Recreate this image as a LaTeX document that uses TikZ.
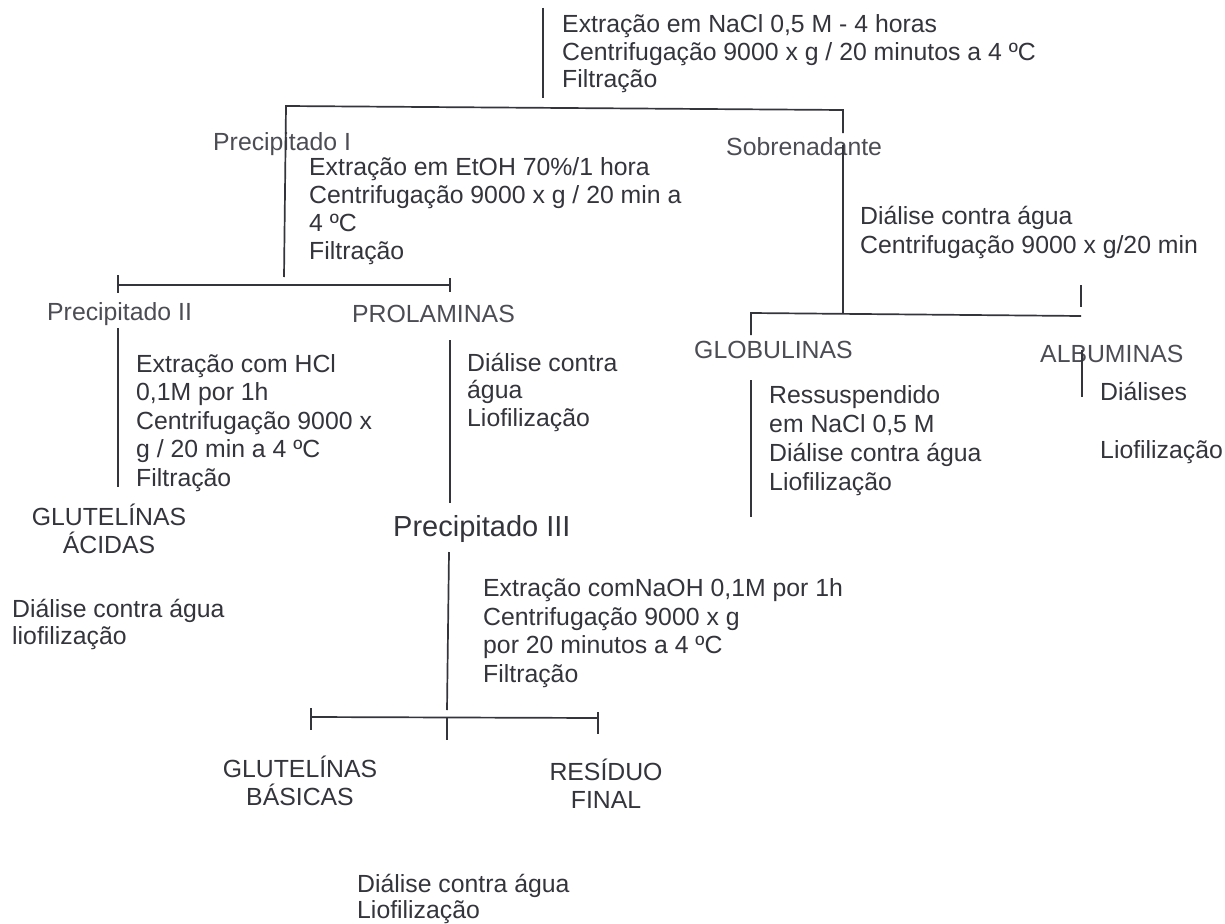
\documentclass[tikz,border=0pt]{standalone}
\usepackage{fontspec}
\setmainfont{Liberation Sans}
\definecolor{ink}{RGB}{52,52,60}
\definecolor{inklight}{RGB}{76,76,84}
\begin{document}
\begin{tikzpicture}[x=1pt,y=-1pt,
  % multi-line nodes: base anchor = baseline of the LAST line
  txt/.style={anchor=base west,inner sep=0pt,align=left,text=ink,
    font=\fontsize{24.8}{28.5}\selectfont},
  lbl/.style={anchor=base west,inner sep=0pt,text=inklight,
    font=\fontsize{24.8}{28.5}\selectfont},
  ctr/.style={anchor=base,inner sep=0pt,align=center,text=ink,
    font=\fontsize{24.8}{28}\selectfont},
  ln/.style={draw=ink,line width=1.7pt}]
\useasboundingbox[fill=white] (0,0) rectangle (1225,923);

% ---- text nodes ----
\node[txt,font=\fontsize{24.8}{27.5}\selectfont] (top) at (562,88) {Extração em NaCl 0,5 M - 4 horas\\Centrifugação 9000 x g / 20 minutos a 4 ºC\\Filtração};
\node[lbl] (p1) at (213,150) {Precipitado I};
\node[lbl] (sob) at (726,155) {Sobrenadante};
\node[txt,font=\fontsize{24.8}{28}\selectfont] (etoh) at (309,259) {Extração em EtOH 70\%/1 hora\\Centrifugação 9000 x g / 20 min a\\4 ºC\\Filtração};
\node[txt] (dial1) at (860,253) {Diálise contra água\\Centrifugação 9000 x g/20 min};
\node[lbl] (p2) at (47,320) {Precipitado II};
\node[lbl] (prol) at (352,322) {PROLAMINAS};
\node[txt] (hcl) at (136,486) {Extração com HCl\\0,1M por 1h\\Centrifugação 9000 x\\g / 20 min a 4 ºC\\Filtração};
\node[txt,font=\fontsize{24.8}{27.5}\selectfont] (dial2) at (467,426) {Diálise contra\\água\\Liofilização};
\node[ctr] (gacid) at (109,553) {GLUTELÍNAS\\ÁCIDAS};
\node[txt,font=\fontsize{29}{34}\selectfont] (p3) at (393,536) {Precipitado III};
\node[txt,font=\fontsize{24.8}{27}\selectfont] (dial3) at (12,644) {Diálise contra água\\liofilização};
\node[txt] (naoh) at (483,682) {Extração comNaOH 0,1M por 1h\\Centrifugação 9000 x g\\por 20 minutos a 4 ºC\\Filtração};
\node[ctr] (gbas) at (300,805) {GLUTELÍNAS\\BÁSICAS};
\node[ctr] (res) at (606,808) {RESÍDUO\\FINAL};
\node[txt,font=\fontsize{24.8}{26}\selectfont] (dial4) at (357,918) {Diálise contra água\\Liofilização};
\node[lbl] (glob) at (694,358) {GLOBULINAS};
\node[lbl] (alb) at (1040,362) {ALBUMINAS};
\node[txt] (dlses) at (1100,400) {Diálises};
\node[txt] (liof) at (1100,458) {Liofilização};
\node[txt,font=\fontsize{24.8}{29}\selectfont] (ress) at (769,490) {Ressuspendido\\em NaCl 0,5 M\\Diálise contra água\\Liofilização};

% ---- connector end points ----
\coordinate (a0) at (543,8);   \coordinate (a1) at (543,98);
\coordinate (h1l) at (286,106); \coordinate (h1r) at (843,110);
\coordinate (l1b) at (284,277);
\coordinate (r1a) at (843,133); \coordinate (r1b) at (843,145); \coordinate (r1c) at (843,313);
\coordinate (h2l) at (118,285); \coordinate (h2r) at (450,285);
\coordinate (t2la) at (118,275); \coordinate (t2lb) at (118,293);
\coordinate (t2ra) at (450,278); \coordinate (t2rb) at (450,292);
\coordinate (v2a) at (118,328); \coordinate (v2b) at (118,487);
\coordinate (v3a) at (450,340); \coordinate (v3b) at (450,503);
\coordinate (v4a) at (449,552); \coordinate (v4b) at (447,710);
\coordinate (h3l) at (311,717); \coordinate (h3m) at (447,717.5); \coordinate (h3r) at (598,718);
\coordinate (t3la) at (311,708); \coordinate (t3lb) at (311,730);
\coordinate (t3mb) at (447,740);
\coordinate (t3ra) at (598,712); \coordinate (t3rb) at (598,734);
\coordinate (h4l) at (751,313); \coordinate (h4r) at (1081,316);
\coordinate (t4a) at (1081,285); \coordinate (t4b) at (1081,307);
\coordinate (g1) at (751,335);
\coordinate (al1) at (1082,350); \coordinate (al2) at (1082,397);
\coordinate (rs1) at (751,380); \coordinate (rs2) at (751,517);

% ---- connectors ----
\draw[ln] (a0) -- (a1);
\draw[ln] (l1b) -- (h1l) -- (h1r) -- (r1a);
\draw[ln] (r1b) -- (r1c);
\draw[ln] (h2l) -- (h2r);
\draw[ln] (t2la) -- (t2lb);
\draw[ln] (t2ra) -- (t2rb);
\draw[ln] (v2a) -- (v2b);
\draw[ln] (v3a) -- (v3b);
\draw[ln] (v4a) -- (v4b);
\draw[ln] (h3l) -- (h3r);
\draw[ln] (t3la) -- (t3lb);
\draw[ln] (h3m) -- (t3mb);
\draw[ln] (t3ra) -- (t3rb);
\draw[ln] (g1) -- (h4l) -- (h4r);
\draw[ln] (t4a) -- (t4b);
\draw[ln] (al1) -- (al2);
\draw[ln] (rs1) -- (rs2);
\end{tikzpicture}
\end{document}
